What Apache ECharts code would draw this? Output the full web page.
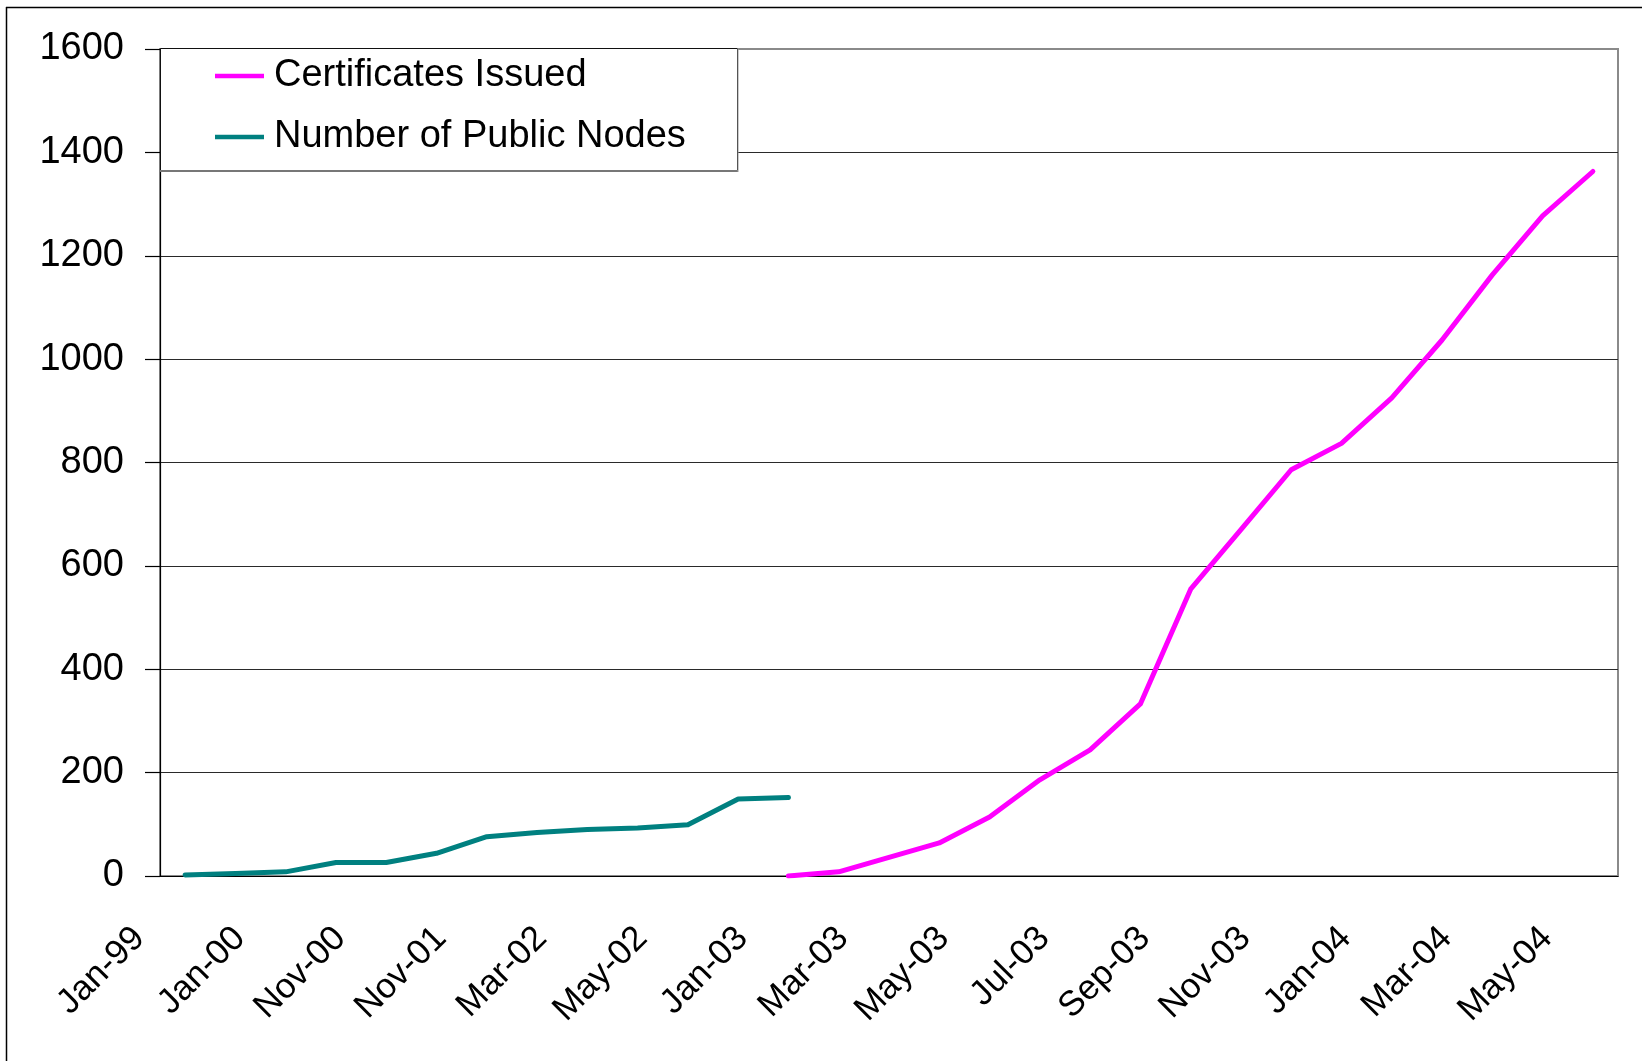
<!DOCTYPE html>
<html><head><meta charset="utf-8">
<script src="https://cdn.jsdelivr.net/npm/echarts@6/dist/echarts.min.js"></script>
<style>html,body{margin:0;padding:0;background:#fff}#c{width:1642px;height:1061px}</style>
</head><body><div id="c"></div>
<script>
// Categories (only every other one is labelled in the original chart)
const categories = ['Jan-99','Jul-99','Jan-00','Jun-00','Nov-00','May-01','Nov-01','Jan-02','Mar-02','Apr-02','May-02','Sep-02',
  'Jan-03','Feb-03','Mar-03','Apr-03','May-03','Jun-03','Jul-03','Aug-03','Sep-03','Oct-03','Nov-03','Dec-03',
  'Jan-04','Feb-04','Mar-04','Apr-04','May-04'];
// Number of Public Nodes: Jan-99 .. Jan-03
const publicNodes = [2, 5, 8, 26, 26, 44, 76, 84, 90, 93, 99, 149, 152];
// Certificates Issued: Jan-03 .. May-04
const certificatesIssued = [0, 8, 36, 64, 114, 186, 244, 333, 555, 670, 786, 837, 925, 1037, 1163, 1277, 1363];
const certStart = 'Jan-03';
const seriesNames = ['Certificates Issued', 'Number of Public Nodes'];
const yMin = 0, yMax = 1600, yStep = 200;

const startIdx = categories.indexOf(certStart);
const nodesData = categories.map((c, i) => i < publicNodes.length ? publicNodes[i] : null);
const certData = categories.map((c, i) => i >= startIdx ? certificatesIssued[i - startIdx] : null);

const FONT = '"Liberation Sans", Arial, sans-serif';
const chart = echarts.init(document.getElementById('c'), null, {renderer: 'canvas'});
chart.setOption({
  animation: false,
  backgroundColor: '#fff',
  grid: {left: 160, right: 24, top: 49, bottom: 185, show: true, borderColor: '#8a8a8a', borderWidth: 2, backgroundColor: 'transparent'},
  xAxis: {
    type: 'category', data: categories, boundaryGap: true,
    axisLine: {lineStyle: {color: '#000', width: 1.2}},
    axisTick: {interval: 0, length: 12, lineStyle: {color: '#000', width: 1.2}},
    axisLabel: {interval: 1, rotate: 45, fontSize: 35, fontFamily: FONT, color: '#000', margin: 11, padding: [0, 65, 0, 0]},
    splitLine: {show: false}
  },
  yAxis: {
    type: 'value', min: yMin, max: yMax, interval: yStep,
    axisLine: {show: true, lineStyle: {color: '#000', width: 1.2}},
    axisTick: {show: true, length: 15, lineStyle: {color: '#000', width: 1.2}},
    axisLabel: {fontSize: 38, fontFamily: FONT, color: '#000', margin: 36, padding: [0, 0, 26, 0],
      formatter: v => String(v)},
    splitLine: {show: true, showMinLine: false, showMaxLine: false, lineStyle: {color: '#2a2a2a', width: 1.2}}
  },
  legend: {
    data: seriesNames, orient: 'vertical', left: 215, top: 56, padding: 0, itemGap: 21,
    itemWidth: 49, itemHeight: 4.5, icon: 'rect', z: 30,
    textStyle: {fontSize: 38, fontFamily: FONT, color: '#000', lineHeight: 40, padding: [0, 0, 0, 5]}
  },
  graphic: [
    {type: 'line', z: 5, shape: {x1: 6.5, y1: 7, x2: 6.5, y2: 1061}, style: {stroke: '#000', lineWidth: 1.5}},
    {type: 'line', z: 5, shape: {x1: 6, y1: 7.5, x2: 1642, y2: 7.5}, style: {stroke: '#000', lineWidth: 1.5}},
    {type: 'rect', z: 20, shape: {x: 160.5, y: 48.5, width: 577, height: 122}, style: {fill: '#fff', stroke: '#111', lineWidth: 1}},
    {type: 'line', z: 21, shape: {x1: 160, y1: 171, x2: 738, y2: 171}, style: {stroke: '#777', lineWidth: 2}},
    {type: 'line', z: 21, shape: {x1: 738, y1: 48, x2: 738, y2: 172}, style: {stroke: '#999', lineWidth: 1}}
  ],
  series: [
    {name: seriesNames[0], type: 'line', data: certData, symbol: 'none', connectNulls: false,
     lineStyle: {color: '#FF00FF', width: 5, cap: 'round', join: 'round'}, itemStyle: {color: '#FF00FF'}, z: 3},
    {name: seriesNames[1], type: 'line', data: nodesData, symbol: 'none', connectNulls: false,
     lineStyle: {color: '#008080', width: 5, cap: 'round', join: 'round'}, itemStyle: {color: '#008080'}, z: 3}
  ]
});
</script></body></html>
